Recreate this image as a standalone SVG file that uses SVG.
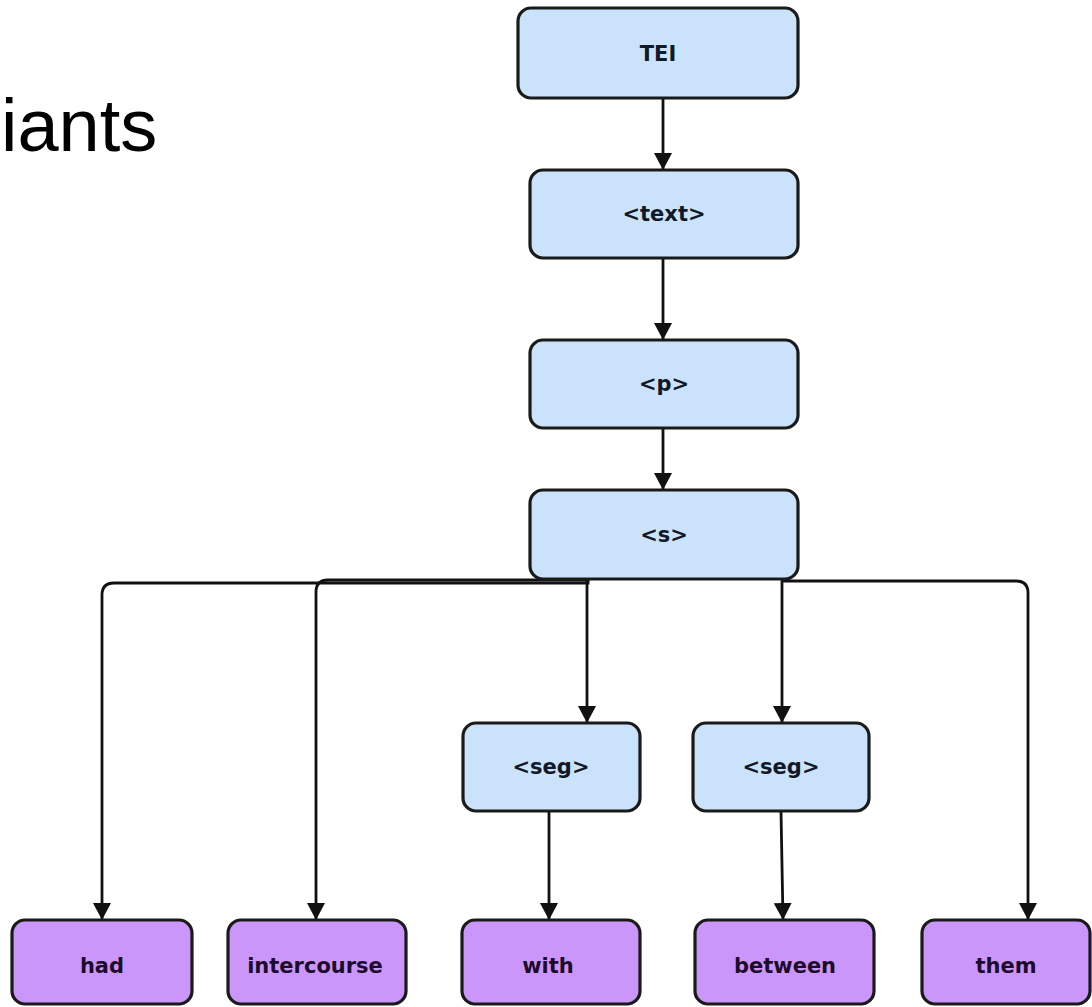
<svg xmlns="http://www.w3.org/2000/svg" width="1092" height="1007" viewBox="0 0 1092 1007">
<defs>
<style>
.b{fill:#cbe3fa;stroke:#1a1a1a;stroke-width:3.2}
.v{fill:#cb96fa;stroke:#1a1a1a;stroke-width:3.2}
.t{font-family:"DejaVu Sans",Verdana,sans-serif;font-weight:bold;font-size:21px;text-anchor:middle;dominant-baseline:central;fill:#111827}
.tv{fill:#1d0b2a}
.c{fill:none;stroke:#111;stroke-width:2.8}
</style>
<marker id="ah" markerUnits="userSpaceOnUse" viewBox="0 0 17 18" refX="17" refY="9" markerWidth="17" markerHeight="18" orient="auto">
<path d="M0,0 L17,9 L0,18 z" fill="#111"/>
</marker>
</defs>
<rect width="1092" height="1007" fill="#fff"/>
<text x="1" y="151" font-family="Liberation Sans, Arial, sans-serif" font-size="74" fill="#000">iants</text>
<g id="connectors">
<path class="c" d="M663,98 V170" marker-end="url(#ah)"/>
<path class="c" d="M663,258 V340" marker-end="url(#ah)"/>
<path class="c" d="M663,428 V490" marker-end="url(#ah)"/>
<path class="c" d="M588,579 V583 H114 Q102,583 102,595 V920" marker-end="url(#ah)"/>
<path class="c" d="M588,579 V580 H328 Q316,580 316,592 V920" marker-end="url(#ah)"/>
<path class="c" d="M587,579 V723" marker-end="url(#ah)"/>
<path class="c" d="M782,579 V723" marker-end="url(#ah)"/>
<path class="c" d="M782,581 H1016 Q1028,581 1028,593 V920" marker-end="url(#ah)"/>
<path class="c" d="M549,811 V920" marker-end="url(#ah)"/>
<path class="c" d="M781,811 L783,920" marker-end="url(#ah)"/>
</g>
<g id="n-tei"><rect class="b" x="518" y="8" width="280" height="90" rx="13"/><text class="t" x="658" y="54">TEI</text></g>
<g id="n-text"><rect class="b" x="530" y="170" width="268" height="88" rx="13"/><text class="t" x="664" y="214">&lt;text&gt;</text></g>
<g id="n-p"><rect class="b" x="530" y="340" width="268" height="88" rx="13"/><text class="t" x="664" y="384">&lt;p&gt;</text></g>
<g id="n-s"><rect class="b" x="530" y="490" width="268" height="89" rx="13"/><text class="t" x="664" y="535">&lt;s&gt;</text></g>
<g id="n-seg1"><rect class="b" x="463" y="723" width="177" height="88" rx="13"/><text class="t" x="551" y="767">&lt;seg&gt;</text></g>
<g id="n-seg2"><rect class="b" x="693" y="723" width="176" height="88" rx="13"/><text class="t" x="781" y="767">&lt;seg&gt;</text></g>
<g id="n-had"><rect class="v" x="12" y="920" width="180" height="84" rx="13"/><text class="t tv" x="102" y="966">had</text></g>
<g id="n-intercourse"><rect class="v" x="228" y="920" width="178" height="84" rx="13"/><text class="t tv" x="315" y="966">intercourse</text></g>
<g id="n-with"><rect class="v" x="462" y="920" width="178" height="84" rx="13"/><text class="t tv" x="548" y="966">with</text></g>
<g id="n-between"><rect class="v" x="695" y="920" width="179" height="84" rx="13"/><text class="t tv" x="785" y="966">between</text></g>
<g id="n-them"><rect class="v" x="922" y="920" width="168" height="84" rx="13"/><text class="t tv" x="1006" y="966">them</text></g>
</svg>
